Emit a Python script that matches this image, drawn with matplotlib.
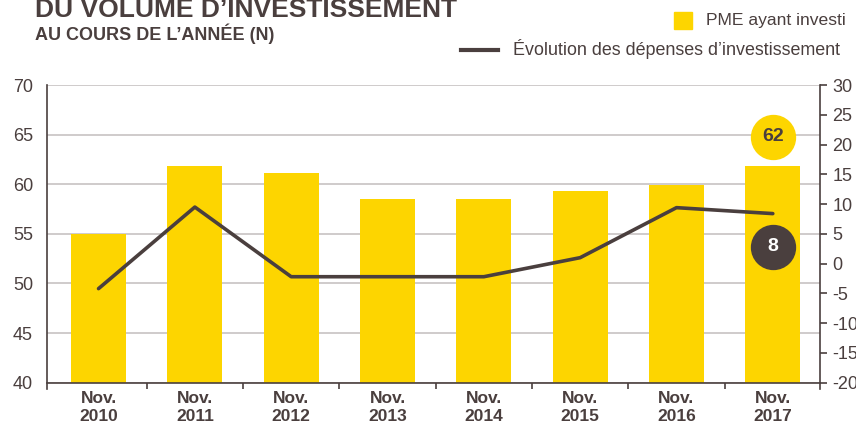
import matplotlib
matplotlib.use("Agg")
import matplotlib.pyplot as plt
from matplotlib.patches import Rectangle
from matplotlib.lines import Line2D

plt.rcParams['font.family'] = ['Liberation Sans', 'DejaVu Sans']
plt.rcParams['axes.unicode_minus'] = False

# Data
years = ["2010", "2011", "2012", "2013", "2014", "2015", "2016", "2017"]
categories = ["Nov.\n" + y for y in years]
pme_investi = [55.0, 61.8, 61.1, 58.5, 58.5, 59.3, 59.9, 61.8]
evolution_depenses = [-4.2, 9.5, -2.2, -2.2, -2.2, 1.0, 9.4, 8.4]
label_pme = "62"
label_evol = "8"

YELLOW = "#FDD500"
DARK = "#4A3F3E"
GRID = "#CFCBCB"

fig = plt.figure(figsize=(8.56, 4.28), dpi=100)
ax = fig.add_axes([47/856, 1 - 382.7/428, (820 - 47)/856, (382.7 - 85)/428])
x = list(range(len(categories)))

ax.bar(x, pme_investi, width=0.57, color=YELLOW, zorder=2)
ax.set_ylim(40, 70)
ax.set_xlim(-0.535, 7.49)
ax.set_yticks(range(40, 71, 5))
ax.yaxis.grid(True, color=GRID, linewidth=1.4, zorder=0)
ax.set_axisbelow(True)
ax.set_xticks(x)
ax.set_xticks([i + 0.5 for i in x[:-1]], minor=True)
ax.set_xticklabels(categories, fontweight='bold', fontsize=12.5, color=DARK, linespacing=1.22)
ax.tick_params(axis='x', which='major', length=0, pad=6)
ax.tick_params(axis='x', which='minor', length=4.5, width=1.2, color=DARK, direction='out')
ax.tick_params(axis='y', length=0, pad=10, labelsize=13, labelcolor=DARK)
for s in ['top', 'right']:
    ax.spines[s].set_visible(False)
for s in ['left', 'bottom']:
    ax.spines[s].set_color(DARK)
    ax.spines[s].set_linewidth(1.2)
ax.spines['left'].set_bounds(39.4, 70)

ax2 = ax.twinx()
ax2.plot(x, evolution_depenses, color=DARK, linewidth=2.6, solid_capstyle='round', zorder=3)
ax2.set_ylim(-20, 30)
ax2.set_yticks(range(-20, 31, 5))
ax2.tick_params(axis='y', length=5, width=1.2, color=DARK, pad=4, labelsize=13, labelcolor=DARK)
for s in ['top', 'left', 'bottom']:
    ax2.spines[s].set_visible(False)
ax2.spines['right'].set_color(DARK)
ax2.spines['right'].set_linewidth(1.2)
ax2.spines['right'].set_bounds(-21, 30)

# Value badges
xl = x[-1]
ax.scatter([xl], [pme_investi[-1] + 3.0], s=1000, color=YELLOW, zorder=5, clip_on=False)
ax.text(xl, pme_investi[-1] + 3.0, label_pme, ha='center', va='center', fontsize=14,
        fontweight='bold', color=DARK, zorder=6)
ax2.scatter([xl], [evolution_depenses[-1] - 5.6], s=1000, color=DARK, zorder=5, clip_on=False)
ax2.text(xl, evolution_depenses[-1] - 5.6, label_evol, ha='center', va='center', fontsize=14,
         fontweight='bold', color='white', zorder=6)

# Titles
fig.text(35/856, 1 - 17/428, "DU VOLUME D\u2019INVESTISSEMENT", fontsize=19, fontweight='bold',
         color=DARK, ha='left', va='baseline')
fig.text(35/856, 1 - 40/428, "AU COURS DE L\u2019ANNÉE (N)", fontsize=13, fontweight='bold',
         color=DARK, ha='left', va='baseline')

# Legend
fig.patches.append(Rectangle((674/856, 1 - 29/428), 18/856, 17/428, transform=fig.transFigure,
                             color=YELLOW, figure=fig))
fig.text(706/856, 1 - 21/428, "PME ayant investi", fontsize=12.6, color=DARK, ha='left', va='center')
fig.lines.append(Line2D([461/856, 498/856], [1 - 50/428, 1 - 50/428], transform=fig.transFigure,
                        color=DARK, linewidth=3, figure=fig))
fig.text(513/856, 1 - 49/428, "Évolution des dépenses d\u2019investissement", fontsize=12.9,
         color=DARK, ha='left', va='center')

fig.savefig("out.png", dpi=100)
